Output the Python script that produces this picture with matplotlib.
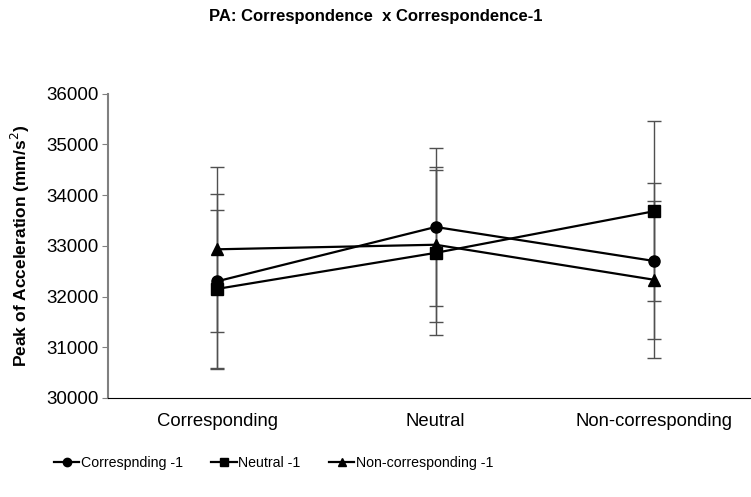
import matplotlib.pyplot as plt

plt.rcParams['font.family'] = ['Liberation Sans', 'DejaVu Sans']

# data
categories = ["Corresponding", "Neutral", "Non-corresponding"]
series_names = ["Correspnding -1", "Neutral -1", "Non-corresponding -1"]
corr_mean = [32300, 33370, 32700]
corr_err = [1720, 1560, 1530]
neut_mean = [32150, 32860, 33680]
neut_err = [1550, 1625, 1770]
noncorr_mean = [32930, 33020, 32330]
noncorr_err = [1630, 1530, 1550]

means = [corr_mean, neut_mean, noncorr_mean]
errs = [corr_err, neut_err, noncorr_err]
markers = ["o", "s", "^"]

x = list(range(len(categories)))

fig = plt.figure(figsize=(7.51, 4.97), dpi=100)
ax = fig.add_axes([108 / 751, 1 - 398 / 497, 1 - 108 / 751, (398 - 93.5) / 497])

for m, e, mk, name in zip(means, errs, markers, series_names):
    ax.errorbar(x, m, yerr=e, fmt="none", ecolor="#505050", elinewidth=1,
                capsize=5, capthick=1, zorder=2)
    ax.plot(x, m, color="black", lw=1.6, marker=mk, markersize=8,
            label=name, zorder=3)

ax.set_xlim(-0.5, 2.444)
ax.set_ylim(30000, 36000)
ax.set_yticks(range(30000, 36001, 1000))
ax.set_xticks(x)
ax.set_xticklabels(categories, fontsize=13.3)
ax.tick_params(axis="x", length=0, pad=11)
ax.tick_params(axis="y", labelsize=13.5, direction="out", length=4,
               color="#808080", pad=3)

ax.spines["top"].set_visible(False)
ax.spines["right"].set_visible(False)
ax.spines["left"].set_color("#808080")
ax.spines["left"].set_linewidth(1.5)
ax.spines["bottom"].set_color("black")

ax.set_ylabel("Peak of Acceleration (mm/s$^2$)", fontsize=12.5, fontweight="bold",
              labelpad=10)

fig.text(0.5, 1 - 17 / 497, "PA: Correspondence  x Correspondence-1",
         ha="center", va="center", fontsize=12, fontweight="bold")

leg = fig.legend(loc="center left", bbox_to_anchor=(41 / 751, 1 - 463 / 497), ncol=3,
                 frameon=False, fontsize=10.2, handlelength=1.8,
                 columnspacing=2.0, handletextpad=0.1, markerscale=0.75)

fig.savefig("out.png", dpi=100)
